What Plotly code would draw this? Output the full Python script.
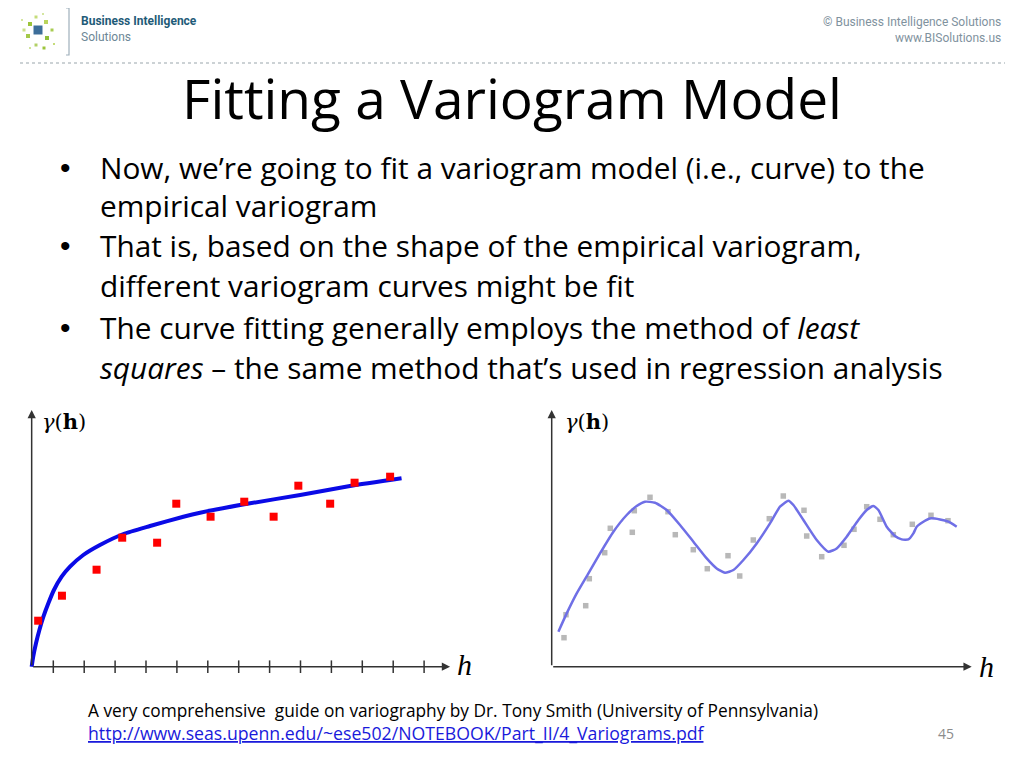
import plotly.graph_objects as go

# ---------------- data ----------------
# Left panel: empirical variogram (red squares) and fitted model (blue curve)
left_pts_h = [0.51, 1.28, 2.40, 3.23, 4.36, 4.98, 6.09, 7.18, 8.13, 8.93, 9.96, 10.75, 11.90]
left_pts_g = [4.6, 7.1, 9.7, 12.9, 12.4, 16.3, 15.0, 16.5, 15.0, 18.1, 16.3, 18.4, 19.0]
left_fit_h = [0.30, 0.35, 0.44, 0.55, 0.68, 0.84, 1.02, 1.27, 1.54, 1.97, 2.51, 3.27,
              4.13, 5.21, 5.75, 7.37, 8.99, 10.6, 12.27]
left_fit_g = [0.0, 1.0, 2.34, 3.67, 5.0, 6.34, 7.67, 9.0, 10.0, 11.17, 12.17, 13.27,
              14.07, 15.0, 15.4, 16.34, 17.17, 18.07, 18.84]
left_ticks = [1, 2, 3, 4, 5, 6, 7, 8, 9, 10, 11, 12, 13]

# Right panel: empirical variogram (grey squares) and hole-effect model (purple-blue curve)
right_pts_h = [1.23, 1.43, 3.40, 3.76, 5.30, 5.86, 8.06, 8.26, 9.83, 11.63, 12.36, 14.16,
               15.56, 17.63, 18.80, 20.16, 21.76, 23.16, 25.23, 25.50, 27.00, 29.23,
               30.23, 31.50, 32.83, 34.16, 36.06, 37.93, 39.63]
right_pts_g = [2.9, 5.2, 6.1, 8.8, 11.4, 13.84, 13.44, 15.6, 16.94, 15.5, 13.2, 11.7,
               9.8, 11.1, 9.07, 12.67, 14.8, 17.07, 15.64, 13.07, 11.0, 12.14,
               13.74, 16.0, 14.74, 13.2, 14.24, 15.14, 14.6]
right_fit_h = [0.67, 1.5, 2.5, 3.67, 4.83, 6.17, 7.5, 8.5, 9.33, 10.33, 11.5, 12.83,
               14.17, 15.5, 16.5, 17.33, 18.17, 19.17, 20.5, 21.83, 22.83, 23.67,
               24.17, 25.17, 26.5, 27.67, 28.5, 29.5, 30.67, 31.5, 32.17, 32.67,
               33.5, 34.33, 35.0, 35.67, 36.17, 36.5, 37.17, 37.83, 38.83, 39.67, 40.5]
right_fit_g = [3.5, 5.33, 7.33, 9.33, 11.33, 13.5, 15.17, 16.07, 16.5, 16.4, 15.67, 14.17,
               12.5, 10.83, 9.83, 9.4, 9.67, 10.67, 12.33, 14.33, 16.0, 16.6,
               16.17, 14.67, 12.67, 11.5, 11.83, 13.0, 14.67, 15.67, 16.07, 15.67,
               14.0, 13.07, 12.73, 12.73, 13.33, 14.0, 14.5, 14.83, 14.73, 14.5, 14.0]

title_text = "Fitting a Variogram Model"
bullets = [
    ["Now, we\u2019re going to fit a variogram model (i.e., curve) to the",
     "empirical variogram"],
    ["That is, based on the shape of the empirical variogram,",
     "different variogram curves might be fit"],
    ["The curve fitting generally employs the method of <i>least</i>",
     "<i>squares</i> \u2013 the same method that\u2019s used in regression analysis"],
]
footer_note = "A very comprehensive  guide on variography by Dr. Tony Smith (University of Pennsylvania)"
footer_link = "http://www.seas.upenn.edu/~ese502/NOTEBOOK/Part_II/4_Variograms.pdf"
page_no = "45"

# ---------------- figure ----------------
# the page body has an 8px margin, so the figure occupies 8..1016 x 8..760 of the window
OX, OY = 8, 8
W, H = 1008, 752
FONT = "Open Sans"
fig = go.Figure()

fig.add_trace(go.Scatter(x=left_ticks, y=[0] * len(left_ticks), mode="markers",
                         marker=dict(symbol="line-ns", size=9, line=dict(width=1.5, color="#333333")),
                         xaxis="x", yaxis="y", hoverinfo="skip", showlegend=False))
fig.add_trace(go.Scatter(x=left_fit_h, y=left_fit_g, mode="lines",
                         line=dict(color="#0a0ae6", width=4, shape="spline", smoothing=0.6),
                         xaxis="x", yaxis="y", showlegend=False))
fig.add_trace(go.Scatter(x=left_pts_h, y=left_pts_g, mode="markers",
                         marker=dict(symbol="square", size=8, color="#ff0000"),
                         xaxis="x", yaxis="y", showlegend=False))

fig.add_trace(go.Scatter(x=right_pts_h, y=right_pts_g, mode="markers",
                         marker=dict(symbol="square", size=5.5, color="#b8b8b8"),
                         xaxis="x2", yaxis="y2", showlegend=False))
fig.add_trace(go.Scatter(x=right_fit_h, y=right_fit_g, mode="lines",
                         line=dict(color="#6f6fe6", width=2.5, shape="spline", smoothing=0.5),
                         xaxis="x2", yaxis="y2", showlegend=False))

hidden = dict(visible=False, fixedrange=True)
fig.update_layout(
    width=W, height=H,
    margin=dict(l=0, r=0, t=0, b=0),
    paper_bgcolor="white", plot_bgcolor="rgba(0,0,0,0)",
    xaxis=dict(domain=[0, 1], range=[-0.466, 32.155], **hidden),
    yaxis=dict(domain=[0, 1], range=[-9.33, 65.87], **hidden),
    xaxis2=dict(domain=[0, 1], range=[-54.37, 46.43], anchor="y2", **hidden),
    yaxis2=dict(domain=[0, 1], range=[-9.33, 65.87], anchor="x2", overlaying="y", **hidden),
)

ann = []
axis_col = "#333333"

def arrow(xr, yr, x0, y0, x1, y1):
    ann.append(dict(xref=xr, yref=yr, axref=xr, ayref=yr, x=x1, y=y1, ax=x0, ay=y0,
                    text="", showarrow=True, arrowhead=2, arrowsize=1.1, arrowwidth=1.5,
                    arrowcolor=axis_col, standoff=0, startstandoff=0))

arrow("x", "y", 0.30, 0, 0.30, 25.67)
arrow("x", "y", 0.30, 0, 13.84, 0)
arrow("x2", "y2", 0, 0, 0, 25.67)
arrow("x2", "y2", 0, 0, 42.0, 0)

def px(x):
    return (x - OX) / W

def py(y):
    return 1 - (y - OY) / H

def ptext(x, y, text, size, color="black", family=FONT, xanchor="left", yanchor="middle"):
    ann.append(dict(xref="paper", yref="paper", x=px(x), y=py(y), text=text,
                    showarrow=False, xanchor=xanchor, yanchor=yanchor,
                    font=dict(size=size, color=color, family=family)))

# axis labels
ptext(40, 421, "<i>\u03b3</i>(<b>h</b>)", 21, family="DejaVu Serif")
ptext(563, 421, "<i>\u03b3</i>(<b>h</b>)", 21, family="DejaVu Serif")
ptext(455, 664, "<i>h</i>", 30, family="Liberation Serif")
ptext(977, 666, "<i>h</i>", 30, family="Liberation Serif")

# title
ptext(512, 98, title_text, 55, xanchor="center")

# bullets
line_y = [167, 205, 246, 285, 328, 367]
k = 0
for b in bullets:
    for j, line in enumerate(b):
        if j == 0:
            ptext(58, line_y[k], "\u2022", 30, family="Liberation Sans")
        ptext(98, line_y[k], line, 29.8)
        k += 1

# header
ann.append(dict(xref="paper", yref="paper", x=px(79), y=py(29), xanchor="left", yanchor="middle",
                showarrow=False, align="left",
                text="<b>Business Intelligence</b><br><span style='color:#6d8796'>Solutions</span>",
                font=dict(size=12, color="#1f5b78", family="Roboto")))
ann.append(dict(xref="paper", yref="paper", x=px(1003), y=py(30), xanchor="right", yanchor="middle",
                showarrow=False, align="right",
                text="\u00a9 Business Intelligence Solutions<br>www.BISolutions.us",
                font=dict(size=12, color="#7f929e", family="Roboto")))

# footer
ptext(86, 710, footer_note, 17.3)
ptext(86, 733, "<u>" + footer_link + "</u>", 17.7, color="#1a1adb")
ptext(936, 733, page_no, 14, color="#8c8c8c")

shapes = []
shapes.append(dict(type="line", xref="paper", yref="paper", x0=px(20), x1=px(1005),
                   y0=py(63), y1=py(63), line=dict(color="#9aa5ab", width=1.2, dash="dot")))
shapes.append(dict(type="path", xref="paper", yref="paper",
                   path=f"M {px(66)} {py(8)} L {px(69)} {py(8)} L {px(69)} {py(55)} L {px(66)} {py(55)}",
                   line=dict(color="#9fb0bb", width=1.2)))
logo_cells = [(38, 30, 9, "#3d6e9a"), (30, 24, 4, "#9cc43a"), (46, 22, 4, "#b9d45c"),
              (28, 36, 4, "#a4c94a"), (47, 38, 4, "#8fbf3a"), (36, 17, 3, "#c5dc7a"),
              (24, 30, 3, "#c9df86"), (52, 30, 3, "#a8cc52"), (36, 45, 3, "#b2d066"),
              (43, 14, 2, "#d4e6a0"), (22, 20, 2, "#d4e6a0"), (54, 44, 2, "#c5dc7a"),
              (30, 48, 2, "#d0e39a"), (44, 48, 3, "#9cc43a")]
for cx, cy, s, c in logo_cells:
    shapes.append(dict(type="rect", xref="paper", yref="paper", x0=px(cx - s / 2), x1=px(cx + s / 2),
                       y0=py(cy + s / 2), y1=py(cy - s / 2), fillcolor=c, line=dict(width=0)))

fig.update_layout(annotations=ann, shapes=shapes)
fig.write_html("out.html", config={"displayModeBar": False})
